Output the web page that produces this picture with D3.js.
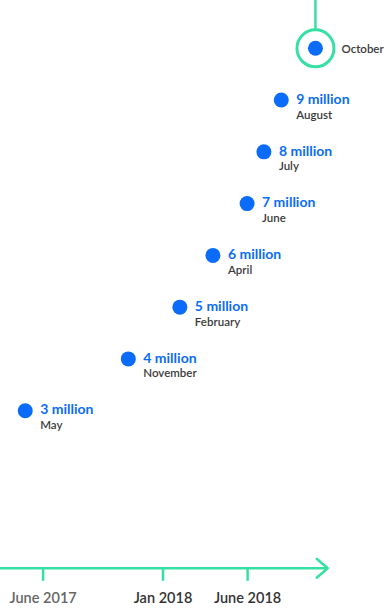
<!DOCTYPE html>
<html>
<head>
<meta charset="utf-8">
<script src="https://cdn.jsdelivr.net/npm/d3@7"></script>
<style>
  html, body { margin: 0; padding: 0; background: #fff; }
  svg { display: block; }
</style>
</head>
<body>
<svg id="chart" width="392" height="608"></svg>
<script>
// ---- data ----
const months = ["May", "November", "February", "April", "June", "July", "August", "October"];
const dates = ["2017-05-01", "2017-11-01", "2018-02-01", "2018-04-01", "2018-06-01", "2018-07-01", "2018-08-01", "2018-10-01"];
const users = [3, 4, 5, 6, 7, 8, 9, 10];           // millions
const valueLabels = ["3 million", "4 million", "5 million", "6 million", "7 million", "8 million", "9 million", ""];
const tickDates = ["2017-06-01", "2018-01-01", "2018-06-01"];
const tickLabels = ["June 2017", "Jan 2018", "June 2018"];

// ---- setup ----
const BLUE = "#0a6cf8", GREEN = "#36e0a2";
const svg = d3.select("#chart");
const parse = d3.timeParse("%Y-%m-%d");

const data = months.map((m, i) => ({
  month: m, date: parse(dates[i]), value: users[i], label: valueLabels[i]
}));

const x = d3.scaleTime()
  .domain([parse("2017-01-01"), parse("2019-01-01")])
  .range([-42, 367]);
const y = d3.scaleLinear().domain([0, 10]).range([566, 48.3]);

const axisY = 568.3;
const arrowEnd = 327.7;

// ---- axis ----
const axis = d3.axisBottom(x)
  .tickValues(tickDates.map(parse))
  .tickFormat((d, i) => tickLabels[i])
  .tickSize(12.5)
  .tickPadding(12);

const gAxis = svg.append("g").attr("transform", `translate(0,${axisY})`).call(axis);
gAxis.select(".domain").remove();
gAxis.selectAll(".tick line").attr("stroke", GREEN).attr("stroke-width", 2.5);
gAxis.selectAll(".tick text")
  .attr("font-family", "Lato, 'Open Sans', sans-serif")
  .attr("font-size", 14.5)
  .attr("font-weight", "600")
  .attr("fill", (d, i) => i === 0 ? "#666" : "#333");

svg.append("line")
  .attr("x1", 0).attr("x2", arrowEnd)
  .attr("y1", axisY).attr("y2", axisY)
  .attr("stroke", GREEN).attr("stroke-width", 2.5);
svg.append("path")
  .attr("d", `M${arrowEnd - 11},${axisY - 9.5} L${arrowEnd},${axisY} L${arrowEnd - 11},${axisY + 9.5}`)
  .attr("fill", "none").attr("stroke", GREEN).attr("stroke-width", 2.5)
  .attr("stroke-linecap", "round").attr("stroke-linejoin", "round");

// ---- highlighted latest point ----
const last = data[data.length - 1];
svg.append("line")
  .attr("x1", x(last.date)).attr("x2", x(last.date))
  .attr("y1", 0).attr("y2", y(last.value) - 19)
  .attr("stroke", GREEN).attr("stroke-width", 2.5);
svg.append("circle")
  .attr("cx", x(last.date)).attr("cy", y(last.value)).attr("r", 18.5)
  .attr("fill", "none").attr("stroke", GREEN).attr("stroke-width", 3);

// ---- points ----
svg.append("g").selectAll("circle").data(data).join("circle")
  .attr("cx", d => x(d.date)).attr("cy", d => y(d.value))
  .attr("r", 7.5).attr("fill", BLUE);

// ---- labels ----
const lab = svg.append("g").attr("font-family", "Lato, 'Open Sans', sans-serif");
lab.selectAll("text.val").data(data.filter(d => d.label)).join("text")
  .attr("class", "val")
  .attr("x", d => x(d.date) + 15).attr("y", d => y(d.value) + 3.8)
  .attr("font-size", 14).attr("font-weight", "bold").attr("fill", BLUE)
  .text(d => d.label);
lab.selectAll("text.mon").data(data).join("text")
  .attr("class", "mon")
  .attr("x", d => d.label ? x(d.date) + 15 : x(d.date) + 26)
  .attr("y", d => d.label ? y(d.value) + 18.5 : y(d.value) + 5)
  .attr("font-size", 11.5).attr("font-weight", "600").attr("fill", "#3a3a3a")
  .text(d => d.month);
</script>
</body>
</html>
